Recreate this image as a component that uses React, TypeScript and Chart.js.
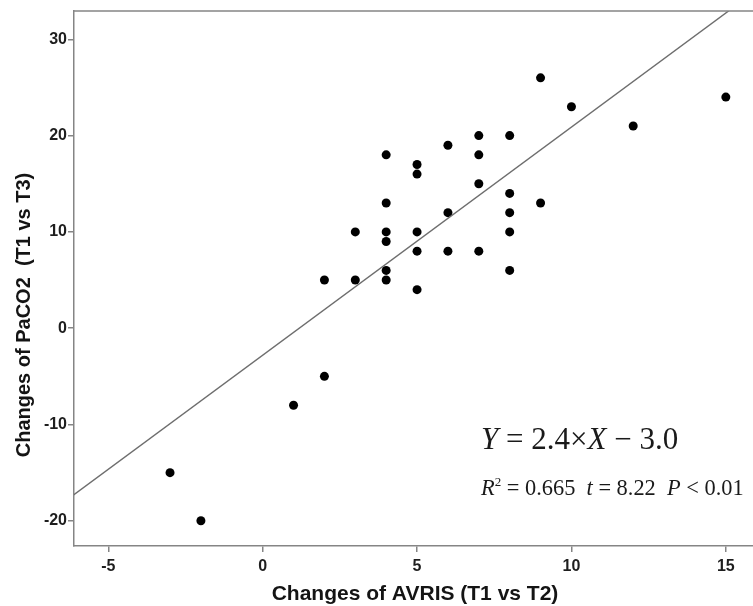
import React, { useEffect, useRef } from "react";
import { Chart, registerables } from "chart.js";

Chart.register(...registerables);

// Data
const xValues = [10, 7, 8, 6, 4, 7, 5, 5, 7, 8, 4, 9, 6, 8, 3, 4, 5, 8, 4, 5, 6, 7, 4, 8, 2, 3, 4, 5, 9, 12, 15, 2, 1, -3, -2];
const yValues = [23, 20, 20, 19, 18, 18, 17, 16, 15, 14, 13, 13, 12, 12, 10, 10, 10, 10, 9, 8, 8, 8, 6, 6, 5, 5, 5, 4, 26, 21, 24, -5, -8, -15, -20];
const fitLineX = [-7, 16];
const fitLineY = [-19.4, 35.1];
const xTicks = [-5, 0, 5, 10, 15];
const yTicks = [-20, -10, 0, 10, 20, 30];
const xTitle = "Changes of AVRIS (T1 vs T2)";
const yTitle = "Changes of PaCO2  (T1 vs T3)";

const AXIS_GRAY = "#858585";
const SANS = "'Liberation Sans', Arial, sans-serif";
const SERIF = "'Liberation Serif', 'Times New Roman', serif";

function drawSegments(ctx: CanvasRenderingContext2D, x: number, y: number, segs: { t: string; f: string; dy?: number }[]) {
  let cx = x;
  for (const s of segs) {
    ctx.font = s.f;
    ctx.fillText(s.t, cx, y + (s.dy || 0));
    cx += ctx.measureText(s.t).width;
  }
}

const decorPlugin = {
  id: "decor",
  afterDraw(chart: any) {
    const ctx = chart.ctx as CanvasRenderingContext2D;
    const a = chart.chartArea;
    ctx.save();
    // top frame line
    ctx.strokeStyle = AXIS_GRAY;
    ctx.lineWidth = 1.5;
    ctx.beginPath();
    ctx.moveTo(a.left, a.top);
    ctx.lineTo(chart.width, a.top);
    ctx.stroke();

    ctx.fillStyle = "#141414";
    ctx.textBaseline = "alphabetic";
    // x title
    ctx.font = `bold 21px ${SANS}`;
    ctx.textAlign = "center";
    ctx.fillText(xTitle, 415, 600);
    // y title
    ctx.save();
    ctx.font = `bold 20px ${SANS}`;
    ctx.translate(30, 315);
    ctx.rotate(-Math.PI / 2);
    ctx.fillText(yTitle, 0, 0);
    ctx.restore();

    // equation
    ctx.textAlign = "left";
    ctx.fillStyle = "#1a1a1a";
    const big = 31;
    drawSegments(ctx, 481, 449, [
      { t: "Y", f: `italic ${big}px ${SERIF}` },
      { t: " = 2.4\u00D7", f: `${big}px ${SERIF}` },
      { t: "X", f: `italic ${big}px ${SERIF}` },
      { t: " \u2212 3.0", f: `${big}px ${SERIF}` },
    ]);
    const sm = 22.4;
    drawSegments(ctx, 481, 495, [
      { t: "R", f: `italic ${sm}px ${SERIF}` },
      { t: "2", f: `${13}px ${SERIF}`, dy: -9 },
      { t: " = 0.665  ", f: `${sm}px ${SERIF}` },
      { t: "t", f: `italic ${sm}px ${SERIF}` },
      { t: " = 8.22  ", f: `${sm}px ${SERIF}` },
      { t: "P", f: `italic ${sm}px ${SERIF}` },
      { t: " < 0.01", f: `${sm}px ${SERIF}` },
    ]);
    ctx.restore();
  },
};

export default function App() {
  const ref = useRef<HTMLCanvasElement | null>(null);
  useEffect(() => {
    document.body.style.margin = "0";
    const points = xValues.map((x, i) => ({ x, y: yValues[i] }));
    const line = fitLineX.map((x, i) => ({ x, y: fitLineY[i] }));
    const chart = new Chart(ref.current as HTMLCanvasElement, {
      type: "scatter",
      data: {
        datasets: [
          {
            type: "line",
            data: line,
            borderColor: "#6e6e6e",
            borderWidth: 1.4,
            pointRadius: 0,
            fill: false,
          } as any,
          {
            data: points,
            backgroundColor: "#000",
            borderColor: "#000",
            pointRadius: 4.5,
            pointBorderWidth: 0,
          },
        ],
      },
      options: {
        responsive: false,
        animation: false,
        layout: { autoPadding: false, padding: { top: 11, right: 0, left: 0, bottom: 0 } },
        plugins: { legend: { display: false }, tooltip: { enabled: false } },
        scales: {
          x: {
            type: "linear",
            min: -6.11,
            max: 15.88,
            afterFit: (s: any) => { s.height = 60; },
            afterBuildTicks: (s: any) => { s.ticks = xTicks.map((v) => ({ value: v })); },
            grid: { drawOnChartArea: false, drawTicks: true, tickLength: 6, color: AXIS_GRAY, lineWidth: 1.5 },
            border: { display: true, color: AXIS_GRAY, width: 1.5 },
            ticks: { color: "#1e1e1e", font: { family: SANS, size: 16, weight: "bold" }, padding: 5, maxRotation: 0 },
          },
          y: {
            type: "linear",
            min: -22.62,
            max: 32.94,
            afterFit: (s: any) => { s.width = 74; },
            afterBuildTicks: (s: any) => { s.ticks = yTicks.map((v) => ({ value: v })); },
            grid: { drawOnChartArea: false, drawTicks: true, tickLength: 6, color: AXIS_GRAY, lineWidth: 1.5 },
            border: { display: true, color: AXIS_GRAY, width: 1.5 },
            ticks: { color: "#1e1e1e", font: { family: SANS, size: 16, weight: "bold" }, padding: 1 },
          },
        },
      } as any,
      plugins: [decorPlugin],
    });
    return () => chart.destroy();
  }, []);
  return (
    <div style={{ position: "absolute", left: 0, top: 0, width: 753, height: 606, background: "#fff" }}>
      <canvas ref={ref} width={753} height={606} />
    </div>
  );
}
